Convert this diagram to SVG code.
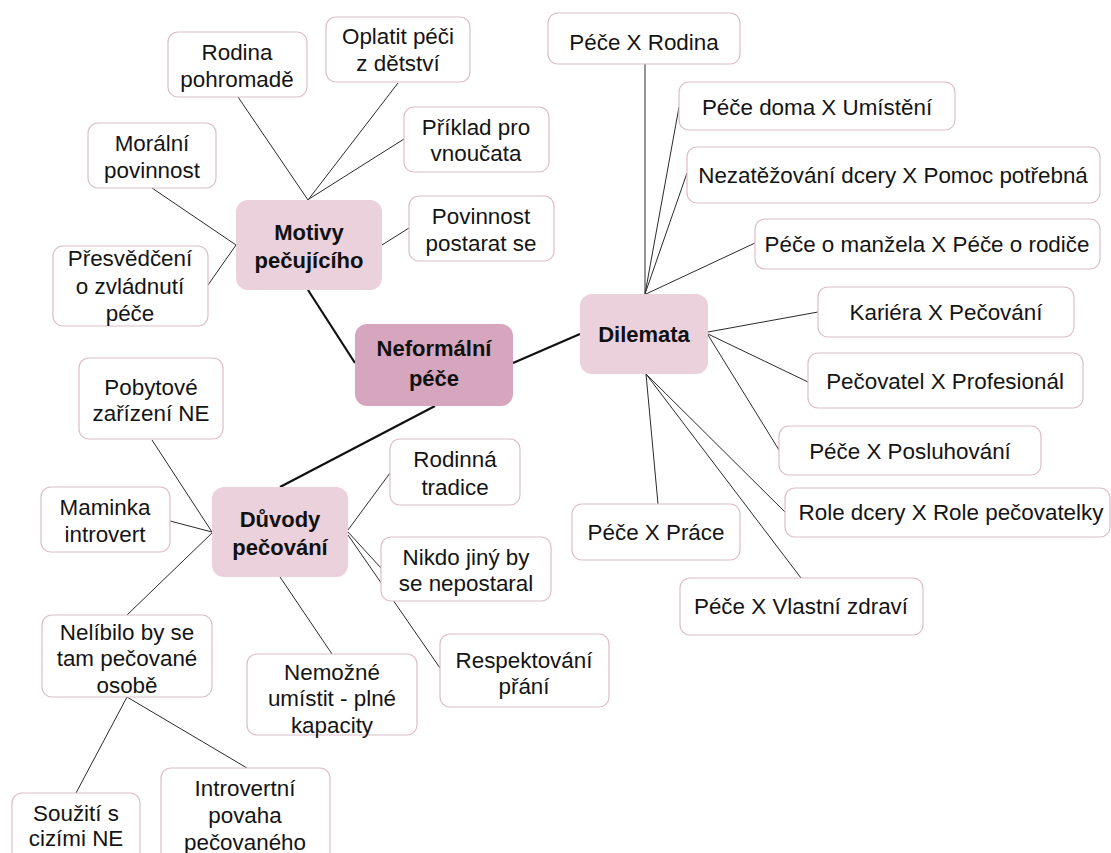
<svg xmlns="http://www.w3.org/2000/svg" width="1111" height="853" viewBox="0 0 1111 853">
<style>
.bg{fill:#ffffff}
.leaf rect{fill:#ffffff;stroke:#dcbccb;stroke-width:1.2}
.cat rect{fill:#ead1dc;stroke:none}
.root rect{fill:#d5a6bd;stroke:none}
text{font-family:"Liberation Sans",Arial,sans-serif;font-size:22.4px;fill:#141414;text-anchor:middle}
.cat text,.root text{font-weight:bold;font-size:22px;fill:#111}
.thin line{stroke:#2a2a2a;stroke-width:1}
.thick line{stroke:#111;stroke-width:2.2}
</style>
<rect class="bg" x="0" y="0" width="1111" height="853"/>
<g id="connectors">
<g class="thin">
<line x1="238" y1="97" x2="308" y2="200"/>
<line x1="398" y1="83" x2="308" y2="200"/>
<line x1="404" y1="139" x2="309" y2="199"/>
<line x1="152" y1="188" x2="236" y2="245"/>
<line x1="208" y1="285" x2="236" y2="245"/>
<line x1="382" y1="245" x2="409" y2="228"/>
<line x1="645" y1="64" x2="645" y2="294"/>
<line x1="679" y1="107" x2="645" y2="294"/>
<line x1="687" y1="173" x2="645" y2="294"/>
<line x1="755" y1="243" x2="646" y2="294"/>
<line x1="708" y1="332" x2="818" y2="312"/>
<line x1="708" y1="334" x2="808" y2="382"/>
<line x1="708" y1="335" x2="779" y2="450"/>
<line x1="646" y1="374" x2="785" y2="512"/>
<line x1="646" y1="374" x2="801" y2="578"/>
<line x1="646" y1="374" x2="658" y2="504"/>
<line x1="152" y1="440" x2="212" y2="532"/>
<line x1="170" y1="521" x2="212" y2="532"/>
<line x1="212" y1="533" x2="127" y2="615"/>
<line x1="348" y1="530" x2="390" y2="473"/>
<line x1="348" y1="532" x2="381" y2="568"/>
<line x1="348" y1="535" x2="440" y2="668"/>
<line x1="280" y1="577" x2="332" y2="654"/>
<line x1="127" y1="697" x2="76" y2="793"/>
<line x1="127" y1="697" x2="247" y2="768"/>
</g>
<g class="thick">
<line x1="308" y1="290" x2="355" y2="363"/>
<line x1="513" y1="363" x2="580" y2="334"/>
<line x1="435" y1="406" x2="280" y2="487"/>
</g>
</g>
<g id="n-root" class="root"><rect x="355" y="324" width="158" height="82" rx="12"/><text x="434"><tspan x="434" y="356">Neformální</tspan><tspan x="434" y="386">péče</tspan></text></g>
<g id="n-motivy" class="cat"><rect x="236" y="200" width="146" height="90" rx="12"/><text><tspan x="309" y="240">Motivy</tspan><tspan x="309" y="268">pečujícího</tspan></text></g>
<g id="n-dilemata" class="cat"><rect x="580" y="294" width="128" height="80" rx="12"/><text x="644" y="342">Dilemata</text></g>
<g id="n-duvody" class="cat"><rect x="212" y="487" width="136" height="90" rx="12"/><text><tspan x="280" y="527">Důvody</tspan><tspan x="280" y="555">pečování</tspan></text></g>

<g id="n-rodina" class="leaf"><rect x="168" y="32" width="139" height="65" rx="10"/><text><tspan x="237" y="60">Rodina</tspan><tspan x="237" y="87">pohromadě</tspan></text></g>
<g id="n-oplatit" class="leaf"><rect x="326" y="17" width="144" height="65" rx="10"/><text><tspan x="398" y="44">Oplatit péči</tspan><tspan x="398" y="71">z dětství</tspan></text></g>
<g id="n-priklad" class="leaf"><rect x="404" y="107" width="145" height="65" rx="10"/><text><tspan x="476" y="135">Příklad pro</tspan><tspan x="476" y="161">vnoučata</tspan></text></g>
<g id="n-moralni" class="leaf"><rect x="88" y="123" width="128" height="65" rx="10"/><text><tspan x="152" y="151">Morální</tspan><tspan x="152" y="178">povinnost</tspan></text></g>
<g id="n-povinnost" class="leaf"><rect x="409" y="196" width="145" height="65" rx="10"/><text><tspan x="481" y="224">Povinnost</tspan><tspan x="481" y="251">postarat se</tspan></text></g>
<g id="n-presvedceni" class="leaf"><rect x="53" y="246" width="155" height="80" rx="10"/><text><tspan x="130" y="266">Přesvědčení</tspan><tspan x="130" y="294">o zvládnutí</tspan><tspan x="130" y="321">péče</tspan></text></g>

<g id="n-pece-rodina" class="leaf"><rect x="548" y="13" width="192" height="51" rx="10"/><text x="644" y="50">Péče X Rodina</text></g>
<g id="n-doma" class="leaf"><rect x="679" y="82" width="276" height="48" rx="10"/><text x="817" y="115">Péče doma X Umístění</text></g>
<g id="n-nezatez" class="leaf"><rect x="687" y="147" width="413" height="56" rx="10"/><text x="893" y="183">Nezatěžování dcery X Pomoc potřebná</text></g>
<g id="n-manzel" class="leaf"><rect x="755" y="219" width="345" height="50" rx="10"/><text x="927" y="252">Péče o manžela X Péče o rodiče</text></g>
<g id="n-kariera" class="leaf"><rect x="818" y="287" width="256" height="50" rx="10"/><text x="946" y="320">Kariéra X Pečování</text></g>
<g id="n-pecovatel" class="leaf"><rect x="808" y="353" width="275" height="55" rx="10"/><text x="945" y="389">Pečovatel X Profesionál</text></g>
<g id="n-posluh" class="leaf"><rect x="779" y="426" width="262" height="49" rx="10"/><text x="910" y="459">Péče X Posluhování</text></g>
<g id="n-role" class="leaf"><rect x="785" y="488" width="325" height="49" rx="10"/><text x="951" y="520">Role dcery X Role pečovatelky</text></g>
<g id="n-prace" class="leaf"><rect x="572" y="504" width="168" height="56" rx="10"/><text x="656" y="540">Péče X Práce</text></g>
<g id="n-zdravi" class="leaf"><rect x="680" y="578" width="243" height="57" rx="10"/><text x="801" y="614">Péče X Vlastní zdraví</text></g>

<g id="n-pobytove" class="leaf"><rect x="79" y="358" width="144" height="81" rx="10"/><text><tspan x="151" y="395">Pobytové</tspan><tspan x="151" y="421">zařízení NE</tspan></text></g>
<g id="n-maminka" class="leaf"><rect x="41" y="487" width="129" height="65" rx="10"/><text><tspan x="105" y="515">Maminka</tspan><tspan x="105" y="542">introvert</tspan></text></g>
<g id="n-tradice" class="leaf"><rect x="390" y="439" width="130" height="66" rx="10"/><text><tspan x="455" y="467">Rodinná</tspan><tspan x="455" y="495">tradice</tspan></text></g>
<g id="n-nikdo" class="leaf"><rect x="381" y="537" width="170" height="64" rx="10"/><text><tspan x="466" y="565">Nikdo jiný by</tspan><tspan x="466" y="591">se nepostaral</tspan></text></g>
<g id="n-respekt" class="leaf"><rect x="440" y="634" width="169" height="73" rx="10"/><text><tspan x="524" y="668">Respektování</tspan><tspan x="524" y="694">přání</tspan></text></g>
<g id="n-nemozne" class="leaf"><rect x="247" y="654" width="170" height="81" rx="10"/><text><tspan x="332" y="680">Nemožné</tspan><tspan x="332" y="706">umístit - plné</tspan><tspan x="332" y="733">kapacity</tspan></text></g>
<g id="n-nelibilo" class="leaf"><rect x="42" y="615" width="170" height="82" rx="10"/><text><tspan x="127" y="640">Nelíbilo by se</tspan><tspan x="127" y="666">tam pečované</tspan><tspan x="127" y="693">osobě</tspan></text></g>
<g id="n-souziti" class="leaf"><rect x="12" y="793" width="128" height="72" rx="10"/><text><tspan x="76" y="821">Soužití s</tspan><tspan x="76" y="846">cizími NE</tspan></text></g>
<g id="n-introvertni" class="leaf"><rect x="161" y="768" width="169" height="100" rx="10"/><text><tspan x="245" y="796">Introvertní</tspan><tspan x="245" y="823">povaha</tspan><tspan x="245" y="850">pečovaného</tspan></text></g>
</svg>
